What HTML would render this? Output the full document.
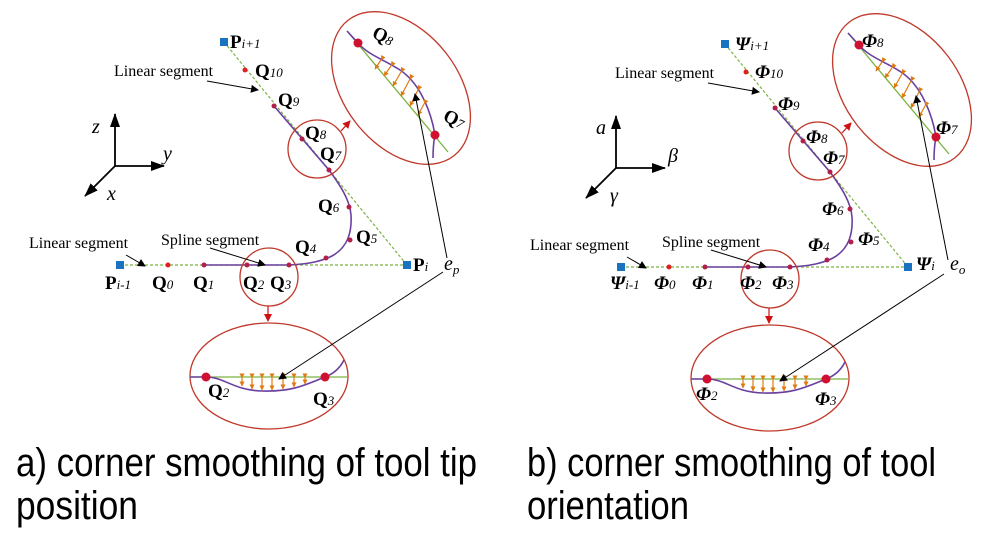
<!DOCTYPE html>
<html><head><meta charset="utf-8"><style>
html,body{margin:0;padding:0;background:#fff;}
svg{display:block}
.s{font-family:"Liberation Serif",serif;}
.lbl{font-family:"Liberation Serif",serif;font-size:16px;}
.Q{font-family:"Liberation Serif",serif;font-weight:bold;font-size:19px;}
.F{font-family:"Liberation Serif",serif;font-weight:bold;font-style:italic;font-size:19px;}
.sub{font-family:"Liberation Serif",serif;font-style:italic;font-size:13px;font-weight:normal;}
.cap{font-family:"Liberation Sans",sans-serif;font-size:40px;}
</style></head><body>
<svg width="992" height="544" viewBox="0 0 992 544" xmlns="http://www.w3.org/2000/svg">
<defs>
<marker id="ab" markerWidth="8" markerHeight="8" refX="7" refY="4" orient="auto" markerUnits="userSpaceOnUse"><path d="M0,0 L8,4 L0,8 z" fill="#000"/></marker>
<marker id="ab2" markerWidth="14" markerHeight="10" refX="13" refY="5" orient="auto" markerUnits="userSpaceOnUse"><path d="M0,0 L14,5 L0,10 z" fill="#000"/></marker>
<marker id="ar" markerWidth="8" markerHeight="8" refX="7" refY="4" orient="auto" markerUnits="userSpaceOnUse"><path d="M0,0 L8,4 L0,8 z" fill="#d01010"/></marker>
<marker id="ao" markerWidth="5" markerHeight="5" refX="4.5" refY="2.5" orient="auto" markerUnits="userSpaceOnUse"><path d="M0,0 L5,2.5 L0,5 z" fill="#e07a10"/></marker>
<g id="geo">
  <line x1="120" y1="265" x2="407" y2="265" stroke="#7cb342" stroke-width="1.2" stroke-dasharray="3,2"/>
  <line x1="224" y1="42" x2="407" y2="265" stroke="#7cb342" stroke-width="1.2" stroke-dasharray="3,2"/>
  <path d="M204,265 L289,265 C310,264 322,261 332,256 C348,247 352,232 351,215 C350,200 340,185 329,170 L274,106" fill="none" stroke="#6a3fa0" stroke-width="1.6"/>
  <circle cx="269" cy="277" r="29" fill="none" stroke="#c0392b" stroke-width="1.3"/>
  <circle cx="317" cy="149" r="29" fill="none" stroke="#c0392b" stroke-width="1.3"/>
  <ellipse cx="401" cy="88" rx="86" ry="57" transform="rotate(52 401 88)" fill="none" stroke="#c0392b" stroke-width="1.3"/>
  <ellipse cx="269" cy="376" rx="79" ry="53" fill="none" stroke="#c0392b" stroke-width="1.3"/>
  <line x1="268" y1="306" x2="268" y2="321" stroke="#d01010" stroke-width="1.2" marker-end="url(#ar)"/>
  <line x1="341" y1="131" x2="350" y2="121" stroke="#d01010" stroke-width="1.2" marker-end="url(#ar)"/>
  <line x1="347" y1="31" x2="448" y2="152" stroke="#7cb342" stroke-width="1.3"/>
  <path d="M347,31 L358,43 C368,55 385,60 400,70 C418,82 428,105 433,125 L435,135 C433,145 433,152 433,158" fill="none" stroke="#6a3fa0" stroke-width="1.6"/>
  <g stroke="#e07a10" stroke-width="1.2" marker-end="url(#ao)" marker-start="url(#ao)">
    <line x1="381" y1="60" x2="375" y2="69"/>
    <line x1="391" y1="66" x2="384" y2="76"/>
    <line x1="401" y1="72" x2="393" y2="86"/>
    <line x1="410" y1="79" x2="401" y2="96"/>
    <line x1="418" y1="90" x2="410" y2="106"/>
    <line x1="424" y1="104" x2="418" y2="115"/>
  </g>
  <circle cx="358" cy="43" r="4.5" fill="#d01030"/>
  <circle cx="435" cy="135" r="4.5" fill="#d01030"/>
  <line x1="190" y1="377" x2="347" y2="377" stroke="#7cb342" stroke-width="1.3"/>
  <path d="M190,377 L206,377 C225,377 232,390 262,391 C292,392 305,385 325,377 C333,374 340,368 344,360" fill="none" stroke="#6a3fa0" stroke-width="1.6"/>
  <g stroke="#e07a10" stroke-width="1.2" marker-end="url(#ao)" marker-start="url(#ao)">
    <line x1="242" y1="378" x2="242" y2="386"/>
    <line x1="252" y1="378" x2="252" y2="389"/>
    <line x1="262" y1="378" x2="262" y2="390"/>
    <line x1="272" y1="378" x2="272" y2="390"/>
    <line x1="283" y1="378" x2="283" y2="389"/>
    <line x1="294" y1="378" x2="294" y2="387"/>
    <line x1="305" y1="378" x2="305" y2="384"/>
  </g>
  <circle cx="206" cy="377" r="4.5" fill="#d01030"/>
  <circle cx="325" cy="377" r="4.5" fill="#d01030"/>
  <g fill="#b0204a">
    <circle cx="274" cy="106" r="2.5"/><circle cx="302" cy="139" r="2.5"/><circle cx="329" cy="170" r="2.5"/>
    <circle cx="349" cy="207" r="2.5"/><circle cx="350" cy="240" r="2.5"/><circle cx="326" cy="258" r="2.5"/>
    <circle cx="289" cy="265" r="2.5"/><circle cx="247" cy="265" r="2.5"/><circle cx="204" cy="265" r="2.5"/>
  </g>
  <circle cx="168" cy="265" r="2.5" fill="#e02020"/>
  <circle cx="245" cy="70" r="2.5" fill="#e02020"/>
  <rect x="116" y="261" width="8" height="8" fill="#1a73c0"/>
  <rect x="403" y="261" width="8" height="8" fill="#1a73c0"/>
  <rect x="220" y="38" width="8" height="8" fill="#1a73c0"/>
  <g stroke="#000" stroke-width="1.8">
    <line x1="115" y1="166" x2="115" y2="114" marker-end="url(#ab2)"/>
    <line x1="115" y1="166" x2="164" y2="166" marker-end="url(#ab2)"/>
    <line x1="115" y1="166" x2="85" y2="196" marker-end="url(#ab2)"/>
  </g>
  <line x1="447" y1="258" x2="415" y2="94" stroke="#000" stroke-width="1" marker-end="url(#ab)"/>
  <line x1="443" y1="272" x2="279" y2="379" stroke="#000" stroke-width="1" marker-end="url(#ab)"/>
  <text class="lbl" x="114" y="76">Linear segment</text>
  <line x1="207" y1="81" x2="258" y2="90" stroke="#000" stroke-width="1" marker-end="url(#ab)"/>
  <text class="lbl" x="29" y="248">Linear segment</text>
  <line x1="126" y1="255" x2="145" y2="266" stroke="#000" stroke-width="1" marker-end="url(#ab)"/>
  <text class="lbl" x="161" y="245">Spline segment</text>
  <line x1="210" y1="248" x2="265" y2="265" stroke="#000" stroke-width="1" marker-end="url(#ab)"/>
</g>
</defs>

<use href="#geo"/>
<use href="#geo" transform="translate(501,2)"/>

<g>
  <text class="Q" x="230" y="48">P<tspan class="sub" font-size="14">i+1</tspan></text>
  <text class="Q" x="255" y="77">Q<tspan class="sub">10</tspan></text>
  <text class="Q" x="278" y="106">Q<tspan class="sub">9</tspan></text>
  <text class="Q" x="305" y="139">Q<tspan class="sub">8</tspan></text>
  <text class="Q" x="320" y="160">Q<tspan class="sub">7</tspan></text>
  <text class="Q" x="318" y="212">Q<tspan class="sub">6</tspan></text>
  <text class="Q" x="356" y="243">Q<tspan class="sub">5</tspan></text>
  <text class="Q" x="295" y="253">Q<tspan class="sub">4</tspan></text>
  <text class="Q" x="105" y="289">P<tspan class="sub">i-1</tspan></text>
  <text class="Q" x="152" y="289">Q<tspan class="sub">0</tspan></text>
  <text class="Q" x="193" y="289">Q<tspan class="sub">1</tspan></text>
  <text class="Q" x="243" y="289">Q<tspan class="sub">2</tspan></text>
  <text class="Q" x="270" y="289">Q<tspan class="sub">3</tspan></text>
  <text class="Q" x="413" y="271">P<tspan class="sub">i</tspan></text>
  <text class="s" x="444" y="270" font-size="20" font-style="italic">e<tspan font-size="13" dy="4">p</tspan></text>
  <text class="Q" x="208" y="397">Q<tspan class="sub">2</tspan></text>
  <text class="Q" x="313" y="405">Q<tspan class="sub">3</tspan></text>
  <text class="Q" font-size="21" transform="translate(371,37) rotate(25)">Q<tspan class="sub">8</tspan></text>
  <text class="Q" font-size="21" transform="translate(442,120) rotate(25)">Q<tspan class="sub">7</tspan></text>
  <text class="s" x="92" y="133" font-size="20" font-style="italic">z</text>
  <text class="s" x="163" y="160" font-size="20" font-style="italic">y</text>
  <text class="s" x="107" y="200" font-size="20" font-style="italic">x</text>
</g>
<g>
  <text class="F" x="735" y="50">Ψ<tspan class="sub" font-size="14">i+1</tspan></text>
  <text class="F" x="755" y="78">Φ<tspan class="sub" font-weight="bold">10</tspan></text>
  <text class="F" x="778" y="110">Φ<tspan class="sub" font-weight="bold">9</tspan></text>
  <text class="F" x="806" y="143">Φ<tspan class="sub" font-weight="bold">8</tspan></text>
  <text class="F" x="823" y="164">Φ<tspan class="sub" font-weight="bold">7</tspan></text>
  <text class="F" x="822" y="215">Φ<tspan class="sub" font-weight="bold">6</tspan></text>
  <text class="F" x="858" y="245">Φ<tspan class="sub" font-weight="bold">5</tspan></text>
  <text class="F" x="808" y="251">Φ<tspan class="sub" font-weight="bold">4</tspan></text>
  <text class="F" x="610" y="289">Ψ<tspan class="sub">i-1</tspan></text>
  <text class="F" x="654" y="289">Φ<tspan class="sub" font-weight="bold">0</tspan></text>
  <text class="F" x="692" y="289">Φ<tspan class="sub" font-weight="bold">1</tspan></text>
  <text class="F" x="740" y="289">Φ<tspan class="sub" font-weight="bold">2</tspan></text>
  <text class="F" x="772" y="289">Φ<tspan class="sub" font-weight="bold">3</tspan></text>
  <text class="F" x="916" y="270">Ψ<tspan class="sub">i</tspan></text>
  <text class="s" x="950" y="270" font-size="20" font-style="italic">e<tspan font-size="13" dy="4">o</tspan></text>
  <text class="F" x="696" y="400">Φ<tspan class="sub" font-weight="bold">2</tspan></text>
  <text class="F" x="815" y="405">Φ<tspan class="sub" font-weight="bold">3</tspan></text>
  <text class="F" x="862" y="47">Φ<tspan class="sub" font-weight="bold">8</tspan></text>
  <text class="F" x="936" y="134">Φ<tspan class="sub" font-weight="bold">7</tspan></text>
  <text class="s" x="596" y="134" font-size="20" font-style="italic">a</text>
  <text class="s" x="668" y="162" font-size="20" font-style="italic">β</text>
  <text class="s" x="610" y="202" font-size="20" font-style="italic">γ</text>
</g>
<text class="cap" x="16" y="476" textLength="461" lengthAdjust="spacingAndGlyphs">a) corner smoothing of tool tip</text>
<text class="cap" x="16" y="519" textLength="122" lengthAdjust="spacingAndGlyphs">position</text>
<text class="cap" x="527" y="476" textLength="409" lengthAdjust="spacingAndGlyphs">b) corner smoothing of tool</text>
<text class="cap" x="527" y="519" textLength="162" lengthAdjust="spacingAndGlyphs">orientation</text>
</svg>
</body></html>
